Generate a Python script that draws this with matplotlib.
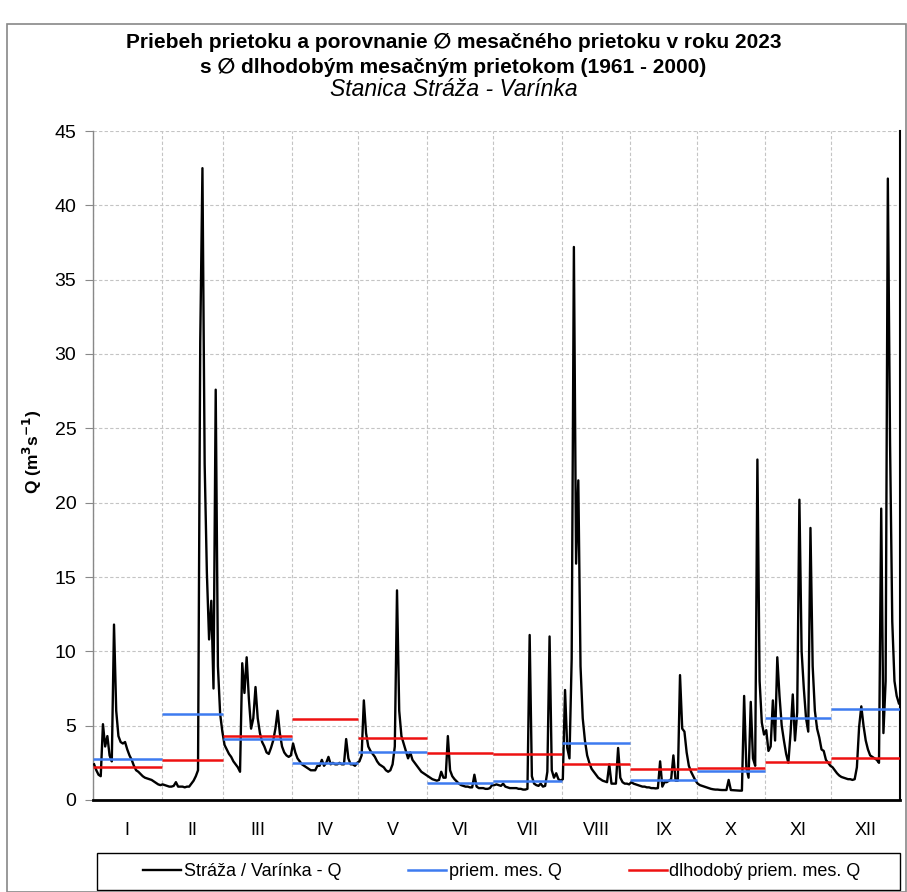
import numpy as np
import matplotlib
matplotlib.use("Agg")
import matplotlib.pyplot as plt
from matplotlib.lines import Line2D
from matplotlib.patches import Rectangle

plt.rcParams['font.family'] = ['Liberation Sans', 'DejaVu Sans']

months = ["I", "II", "III", "IV", "V", "VI", "VII", "VIII", "IX", "X", "XI", "XII"]
month_days = [31, 28, 31, 30, 31, 30, 31, 31, 30, 31, 30, 31]

# daily discharge 2023 (m3/s), per month
q_jan = [2.4, 2.0, 1.7, 1.6, 5.1, 3.6, 4.3, 3.0, 2.6, 11.8, 6.0, 4.3, 3.9, 3.8, 3.9, 3.4,
         3.0, 2.7, 2.3, 2.0, 1.9, 1.75, 1.6, 1.5, 1.45, 1.4, 1.35, 1.25, 1.15, 1.05, 1.0]
q_feb = [1.05, 1.0, 0.95, 0.9, 0.9, 0.95, 1.2, 0.9, 0.9, 0.9, 0.85, 0.9, 0.9, 1.1, 1.3,
         1.6, 2.0, 30.8, 42.5, 22.6, 15.3, 10.8, 13.4, 7.5, 27.6, 9.0, 5.8, 4.6]
q_mar = [3.7, 3.4, 3.1, 2.9, 2.6, 2.4, 2.2, 1.9, 9.2, 7.2, 9.6, 6.8, 4.8, 5.5, 7.6, 5.5,
         4.5, 3.9, 3.6, 3.2, 3.1, 3.5, 4.0, 4.8, 6.0, 4.5, 3.6, 3.2, 3.0, 2.9, 3.0]
q_apr = [3.8, 3.2, 2.8, 2.6, 2.4, 2.3, 2.2, 2.1, 2.0, 2.0, 2.0, 2.3, 2.3, 2.7, 2.3, 2.5,
         2.9, 2.4, 2.5, 2.4, 2.4, 2.5, 2.4, 2.4, 4.1, 2.8, 2.4, 2.4, 2.3, 2.5]
q_may = [2.6, 3.0, 6.7, 4.5, 3.6, 3.3, 3.1, 2.9, 2.6, 2.4, 2.3, 2.2, 2.0, 1.9, 2.0, 2.4,
         3.6, 14.1, 6.0, 4.3, 3.8, 3.3, 2.8, 3.2, 2.7, 2.5, 2.3, 2.1, 1.9, 1.8, 1.7]
q_jun = [1.6, 1.5, 1.4, 1.35, 1.3, 1.35, 1.9, 1.5, 1.5, 4.3, 2.0, 1.6, 1.4, 1.25, 1.1,
         1.0, 0.95, 0.9, 0.9, 0.85, 0.85, 1.7, 0.9, 0.8, 0.8, 0.8, 0.75, 0.75, 0.8, 1.0]
q_jul = [1.0, 1.05, 1.0, 0.95, 1.1, 0.9, 0.85, 0.8, 0.8, 0.8, 0.8, 0.75, 0.75, 0.7, 0.7,
         0.75, 11.1, 1.6, 1.1, 1.0, 0.95, 1.1, 0.9, 0.95, 1.9, 11.0, 2.0, 1.5, 1.8, 1.4, 1.3]
q_aug = [1.4, 7.4, 3.5, 2.8, 9.5, 37.2, 15.9, 21.5, 9.0, 5.5, 4.0, 3.0, 2.5, 2.1, 1.9,
         1.7, 1.5, 1.4, 1.3, 1.25, 1.2, 2.4, 1.1, 1.1, 1.1, 3.5, 1.5, 1.2, 1.1, 1.1, 1.05]
q_sep = [1.2, 1.1, 1.05, 1.0, 0.95, 0.9, 0.9, 0.85, 0.85, 0.8, 0.8, 0.78, 0.8, 2.6, 0.9,
         1.2, 1.2, 1.3, 1.4, 3.0, 1.3, 1.3, 8.4, 4.8, 4.6, 3.2, 2.3, 1.9, 1.6, 1.3]
q_oct = [1.1, 1.0, 0.95, 0.9, 0.85, 0.8, 0.75, 0.72, 0.7, 0.7, 0.68, 0.67, 0.67, 0.67,
         1.35, 0.67, 0.66, 0.65, 0.64, 0.63, 0.63, 7.0, 2.2, 1.5, 6.6, 2.8, 2.3, 22.9, 8.0,
         5.2, 4.4]
q_nov = [4.7, 3.3, 3.6, 6.7, 4.0, 9.6, 7.0, 5.0, 4.0, 3.1, 2.5, 4.5, 7.1, 4.0, 5.9, 20.2,
         10.0, 7.5, 5.5, 4.6, 18.3, 9.0, 6.0, 4.8, 4.2, 3.4, 3.3, 2.7, 2.5, 2.3]
q_dec = [2.2, 2.0, 1.8, 1.65, 1.55, 1.5, 1.45, 1.4, 1.4, 1.35, 1.4, 2.2, 4.9, 6.3, 5.0,
         4.0, 3.4, 3.0, 2.9, 2.8, 2.7, 2.5, 19.6, 4.5, 8.0, 41.8, 24.0, 12.0, 8.0, 7.0, 6.5]

# monthly mean 2023 and long-term monthly mean 1961-2000
monthly_mean_2023 = [2.76, 5.80, 4.08, 2.51, 3.20, 1.17, 1.28, 3.85, 1.37, 1.97, 5.54, 6.12]
monthly_mean_lt = [2.24, 2.67, 4.33, 5.45, 4.15, 3.14, 3.07, 2.40, 2.08, 2.15, 2.53, 2.80]

daily = np.concatenate([q_jan, q_feb, q_mar, q_apr, q_may, q_jun, q_jul, q_aug,
                        q_sep, q_oct, q_nov, q_dec])
days = np.arange(len(daily)) + 0.5
starts = np.concatenate([[0], np.cumsum(month_days)])

BLUE = '#3d7bf0'
RED = '#ee1111'

W, H = 907, 892
fig = plt.figure(figsize=(W / 100, H / 100), dpi=100)
ax = fig.add_axes([93 / W, 1 - 800 / H, (900 - 93) / W, (800 - 131) / H])

ax.plot(days, daily, color='black', lw=1.7, zorder=3)
for i in range(12):
    ax.hlines(monthly_mean_2023[i], starts[i], starts[i + 1], color=BLUE, lw=1.8, zorder=4)
    ax.hlines(monthly_mean_lt[i], starts[i], starts[i + 1], color=RED, lw=1.8, zorder=4)

ax.set_xlim(0, 365)
ax.set_ylim(0, 45)
ax.set_yticks(np.arange(0, 46, 5))
ax.set_xticks(starts)
ax.set_xticklabels([])
ax.set_xticks((starts[:-1] + starts[1:]) / 2, minor=True)
ax.set_xticklabels(months, minor=True)
ax.tick_params(axis='x', which='both', length=0)
ax.tick_params(axis='x', which='minor', pad=16, labelsize=13)
ax.tick_params(axis='y', length=6, width=0.8, color='#888888', labelsize=14, pad=6)
ax.grid(True, which='major', color='#c4c4c4', lw=0.8, ls=(0, (3, 2)))
ax.set_axisbelow(True)
ax.spines['top'].set_visible(False)
ax.spines['left'].set_color('#888888')
ax.spines['left'].set_linewidth(1.0)
ax.spines['bottom'].set_color('black')
ax.spines['bottom'].set_linewidth(2.0)
ax.spines['right'].set_color('black')
ax.spines['right'].set_linewidth(1.5)

ax.set_ylabel('Q (m$^\\mathbf{3}$s$^\\mathbf{-1}$)', fontsize=12.5, fontweight='bold')
ax.yaxis.set_label_coords((44 - 93) / (900 - 93), (800 - 452) / (800 - 131))

fig.text(0.5, 1 - 42 / H, 'Priebeh prietoku a porovnanie \u2205 mesačného prietoku v roku 2023',
         ha='center', va='center', fontsize=15, fontweight='bold')
fig.text(0.5, 1 - 67 / H, 's \u2205 dlhodobým mesačným prietokom (1961 - 2000)',
         ha='center', va='center', fontsize=15, fontweight='bold')
fig.text(0.5, 1 - 90 / H, 'Stanica Stráža - Varínka',
         ha='center', va='center', fontsize=16.5, style='italic')

handles = [Line2D([], [], color='black', lw=1.7),
           Line2D([], [], color=BLUE, lw=1.8),
           Line2D([], [], color=RED, lw=1.8)]
labels = ['Stráža / Varínka - Q', 'priem. mes. Q', 'dlhodobý priem. mes. Q']
leg = fig.legend(handles, labels, loc='center', ncol=3,
                 bbox_to_anchor=(502 / W, 1 - 872 / H), fontsize=13,
                 frameon=False, handlelength=2.1, handletextpad=0.15,
                 columnspacing=3.7)

fig.patches.append(Rectangle((97 / W, 1 - 890 / H), (900 - 97) / W, 37 / H,
                             transform=fig.transFigure, fill=False, edgecolor='black', lw=1.0))
fig.patches.append(Rectangle((7 / W, 0.0), (906 - 7) / W, 1 - 24 / H, transform=fig.transFigure,
                             fill=False, edgecolor='#888888', lw=1.2))

fig.savefig('out.png', dpi=100)
